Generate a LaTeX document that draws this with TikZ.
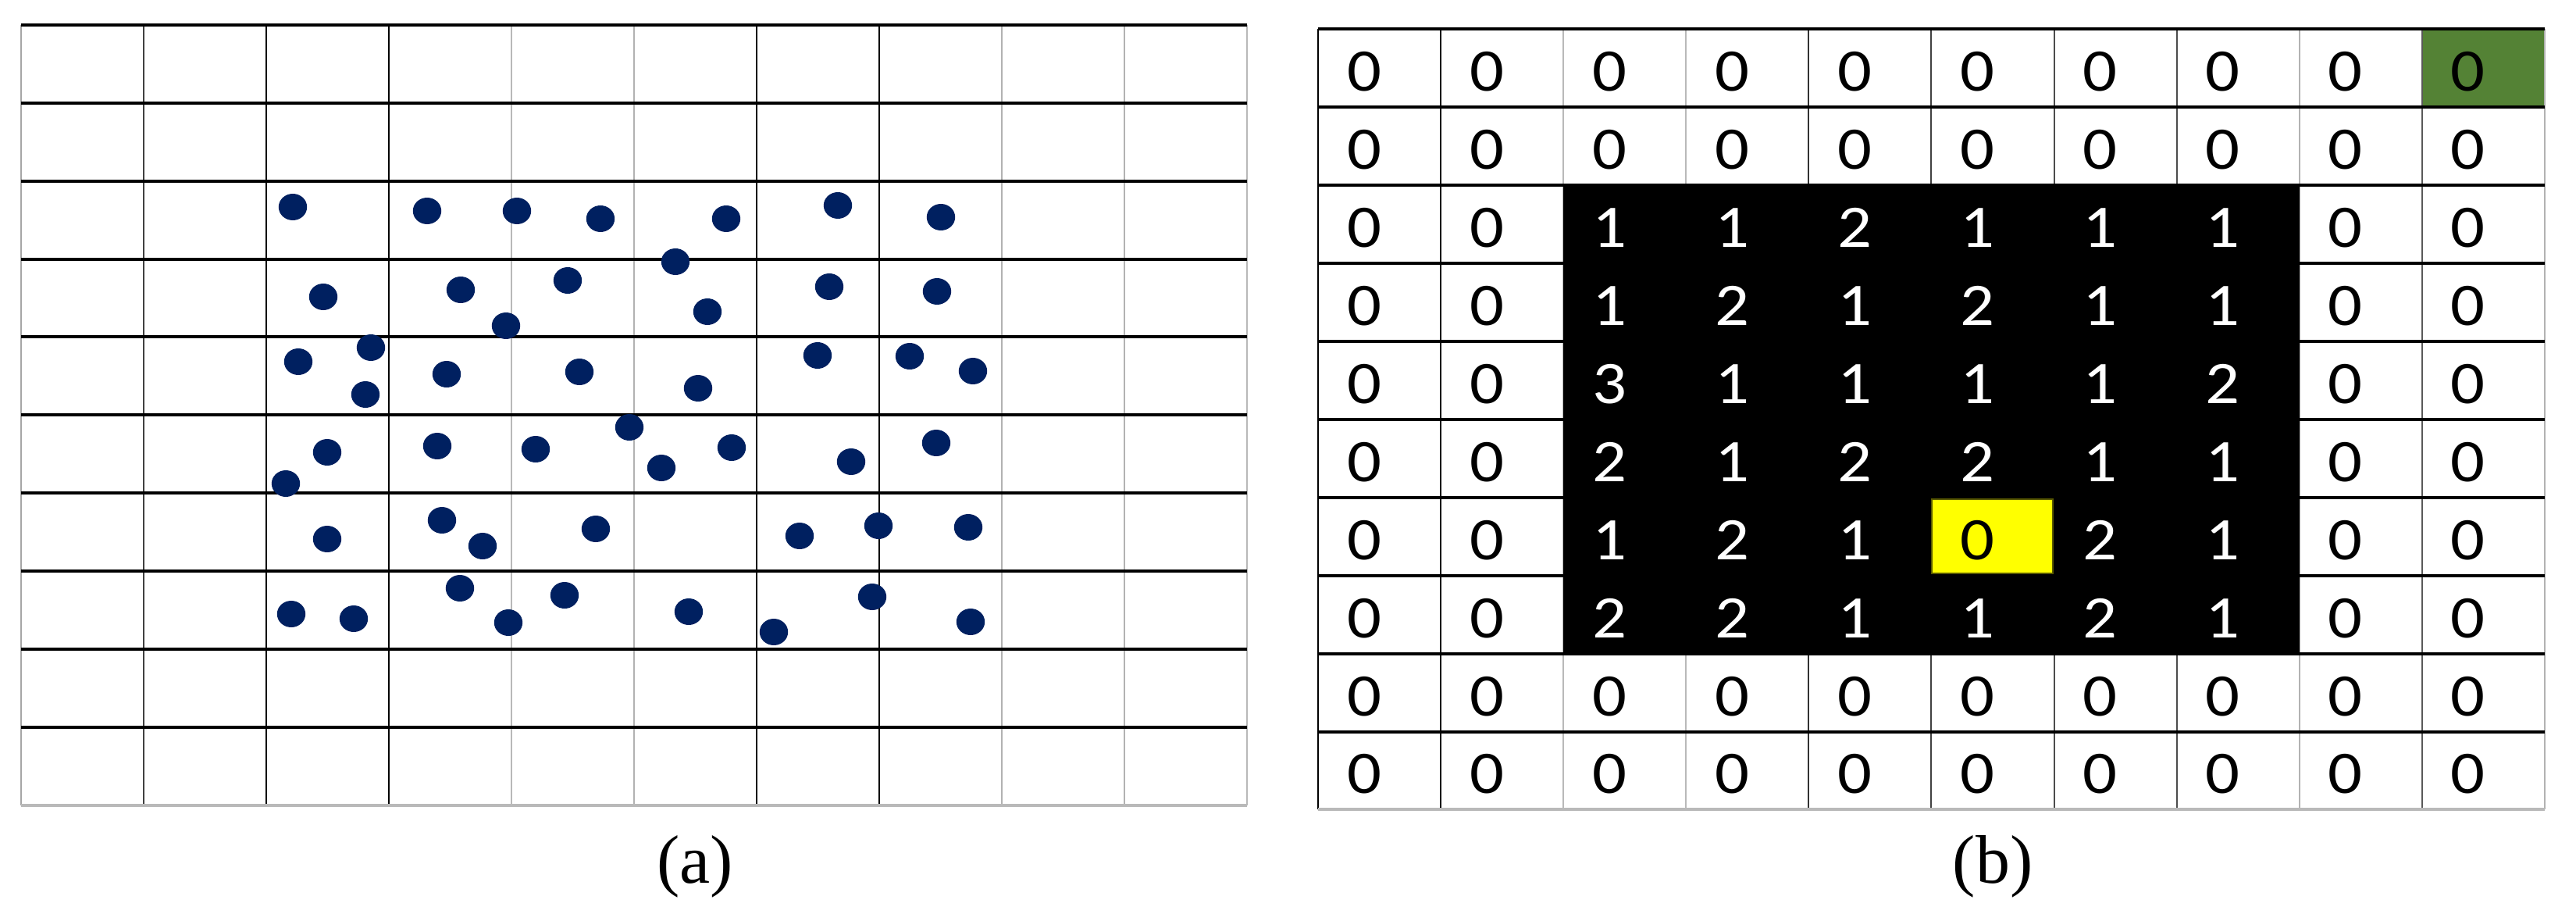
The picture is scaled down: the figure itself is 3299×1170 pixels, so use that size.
\documentclass[tikz,border=0pt]{standalone}
\usepackage{fontspec}
\usepackage{graphicx}
\setmainfont{Liberation Serif}
\newfontfamily\digitfont{Carlito}
\definecolor{dotblue}{RGB}{0,32,96}
\definecolor{cellgreen}{RGB}{84,130,53}
\definecolor{cellyellow}{RGB}{255,255,0}
\definecolor{yedge}{RGB}{90,90,0}
\begin{document}
\begin{tikzpicture}[x=0.01cm,y=-0.01cm,
  hline/.style={line width=0.9pt,black},
  bline/.style={line width=0.9pt,gray!55},
  vline/.style={line width=0.6pt},
  pt/.style={fill=dotblue},
  digit/.style={font=\digitfont\fontsize{22}{26}\selectfont, inner sep=0pt, anchor=center},
  caption/.style={font=\fontsize{25}{30}\selectfont, inner sep=0pt, anchor=base}]
\useasboundingbox (0,0) rectangle (3299,1170);
\fill[white] (0,0) rectangle (3299,1170);

% ---------- (a) left grid ----------
\foreach \xx/\lc in {27/gray!70,184/black!75,341/black,498/black,655/gray!55,812/gray!60,969/black,1126/black,1283/gray!60,1440/gray!60,1597/gray!55}
  \draw[vline,\lc] (\xx,32) -- (\xx,1031);
\foreach \yy in {32,132,232,332,431,531,631,731,831,931}
  \draw[hline] (27,\yy) -- (1597,\yy);
\draw[bline] (27,1031) -- (1597,1031);

% dots
\foreach \px/\py in {375/265,547/270,662/270,769/280,930/280,1073/263,1205/278,
  865/335,414/380,590/371,727/359,1062/367,1200/373,906/399,648/417,
  475/445,382/463,572/479,742/476,1047/455,1165/456,1246/475,468/505,894/497,
  806/547,419/579,560/571,686/575,937/573,1199/567,1090/591,847/599,366/619,
  419/690,566/666,618/699,763/677,1024/686,1125/673,1240/675,
  373/786,453/792,589/753,651/797,723/762,882/783,991/809,1117/764,1243/796}
  \fill[pt] (\px,\py) ellipse [x radius=0.182cm, y radius=0.17cm];

% ---------- (b) right grid ----------
\fill[cellgreen] (3102,39) rectangle (3259,137);
\foreach \xx/\lc in {1688/black,1845/black,2002/gray!55,2159/gray!55,2316/black!80,2473/black!75,2631/black!70,2788/black!70,2945/gray!60,3102/black!65,3259/gray!60}
  \draw[vline,\lc] (\xx,37) -- (\xx,1036);
\foreach \yy in {37,137,237,337,437,537,637,737,837,937}
  \draw[hline] (1688,\yy) -- (3259,\yy);
\draw[bline] (1688,1036) -- (3259,1036);

\fill[black] (2002,237) rectangle (2945,837);
\filldraw[fill=cellyellow,draw=yedge,line width=0.5pt] (2474,639) rectangle (2629,734);

\foreach \vals [count=\ri] in {{0,0,0,0,0,0,0,0,0,0},{0,0,0,0,0,0,0,0,0,0},{0,0,1,1,2,1,1,1,0,0},{0,0,1,2,1,2,1,1,0,0},{0,0,3,1,1,1,1,2,0,0},{0,0,2,1,2,2,1,1,0,0},{0,0,1,2,1,0,2,1,0,0},{0,0,2,2,1,1,2,1,0,0},{0,0,0,0,0,0,0,0,0,0},{0,0,0,0,0,0,0,0,0,0}}{
  \foreach \v [count=\ci] in \vals {
    \pgfmathtruncatemacro\inside{and(and(\ri>2,\ri<9),and(\ci>2,\ci<9))*(1-and(\ri==7,\ci==6))}
    \ifnum\inside=1 \def\tcol{white}\else\def\tcol{black}\fi
    \node[digit,text=\tcol] (n-\ri-\ci) at ({1688+157.1*(\ci-1)+59},{37+99.9*(\ri-1)+55}) {\scalebox{1.12}[1]{\v}};
  }
}

% captions
\node[caption] (capa) at (890,1130) {(a)};
\node[caption] (capb) at (2552,1130) {(b)};
\end{tikzpicture}
\end{document}
